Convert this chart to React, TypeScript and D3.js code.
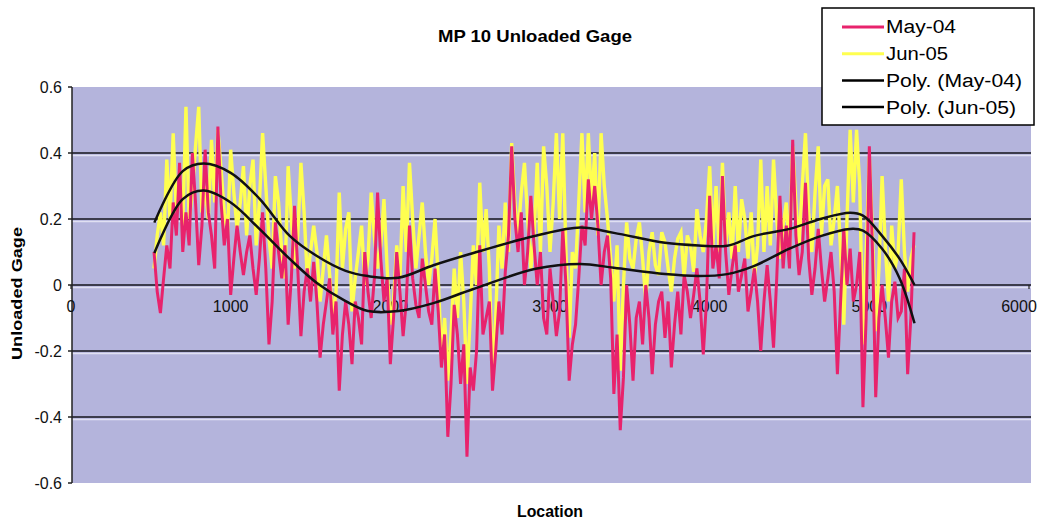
import React from 'react';
import * as d3 from 'd3';

const locations = [
  520, 540, 560, 580, 600, 620, 640, 660, 680, 700, 720, 740, 760, 780, 800, 820, 840, 860, 880, 900,
  920, 940, 960, 980, 1000, 1020, 1040, 1060, 1080, 1100, 1120, 1140, 1160, 1180, 1200, 1220, 1240, 1260, 1280, 1300,
  1320, 1340, 1360, 1380, 1400, 1420, 1440, 1460, 1480, 1500, 1520, 1540, 1560, 1580, 1600, 1620, 1640, 1660, 1680, 1700,
  1720, 1740, 1760, 1780, 1800, 1820, 1840, 1860, 1880, 1900, 1920, 1940, 1960, 1980, 2000, 2020, 2040, 2060, 2080, 2100,
  2120, 2140, 2160, 2180, 2200, 2220, 2240, 2260, 2280, 2300, 2320, 2340, 2360, 2380, 2400, 2420, 2440, 2460, 2480, 2500,
  2520, 2540, 2560, 2580, 2600, 2620, 2640, 2660, 2680, 2700, 2720, 2740, 2760, 2780, 2800, 2820, 2840, 2860, 2880, 2900,
  2920, 2940, 2960, 2980, 3000, 3020, 3040, 3060, 3080, 3100, 3120, 3140, 3160, 3180, 3200, 3220, 3240, 3260, 3280, 3300,
  3320, 3340, 3360, 3380, 3400, 3420, 3440, 3460, 3480, 3500, 3520, 3540, 3560, 3580, 3600, 3620, 3640, 3660, 3680, 3700,
  3720, 3740, 3760, 3780, 3800, 3820, 3840, 3860, 3880, 3900, 3920, 3940, 3960, 3980, 4000, 4020, 4040, 4060, 4080, 4100,
  4120, 4140, 4160, 4180, 4200, 4220, 4240, 4260, 4280, 4300, 4320, 4340, 4360, 4380, 4400, 4420, 4440, 4460, 4480, 4500,
  4520, 4540, 4560, 4580, 4600, 4620, 4640, 4660, 4680, 4700, 4720, 4740, 4760, 4780, 4800, 4820, 4840, 4860, 4880, 4900,
  4920, 4940, 4960, 4980, 5000, 5020, 5040, 5060, 5080, 5100, 5120, 5140, 5160, 5180, 5200, 5220, 5240, 5260, 5280,
];

const may04 = [
  0.10, -0.02, -0.085, 0.02, 0.12, 0.05, 0.25, 0.15, 0.37, 0.10, 0.22, 0.12, 0.40, 0.25, 0.06, 0.18, 0.41, 0.22, 0.15, 0.05,
  0.48, 0.25, 0.12, 0.20, -0.03, 0.08, 0.18, 0.10, 0.03, 0.10, 0.15, 0.05, -0.03, 0.08, 0.22, 0.05, -0.18, -0.05, 0.19, 0.10,
  0.02, 0.12, -0.12, 0.02, 0.24, 0.05, -0.155, -0.02, 0.05, -0.05, 0.07, -0.05, -0.22, -0.12, -0.05, 0.02, -0.15, -0.05, -0.32, -0.15,
  -0.05, -0.12, -0.24, -0.05, -0.10, -0.18, 0.10, -0.02, -0.10, 0.02, 0.28, 0.08, -0.05, 0.02, -0.24, -0.10, 0.10, -0.02, -0.155, -0.05,
  0.18, 0.02, -0.06, -0.10, 0.08, 0.00, -0.08, -0.12, 0.05, -0.08, -0.25, -0.15, -0.46, -0.30, -0.06, -0.15, -0.30, -0.18, -0.52, -0.25,
  -0.32, -0.20, 0.12, -0.15, -0.10, -0.05, -0.32, -0.20, -0.05, -0.15, 0.04, 0.15, 0.42, 0.20, 0.10, 0.22, 0.00, 0.10, 0.27, 0.12,
  0.00, 0.10, -0.10, -0.15, 0.05, -0.05, -0.155, -0.08, 0.17, 0.00, -0.29, -0.18, -0.12, 0.02, 0.18, 0.12, 0.32, 0.20, 0.30, 0.18,
  0.00, 0.10, 0.15, 0.02, -0.33, -0.15, -0.44, -0.28, 0.00, -0.12, -0.29, -0.10, -0.05, -0.18, 0.00, -0.10, -0.27, -0.12, -0.05, -0.02,
  -0.16, -0.05, -0.25, -0.12, -0.02, -0.15, 0.03, -0.02, -0.10, -0.03, 0.05, -0.05, -0.21, -0.05, 0.27, 0.05, 0.12, 0.02, 0.33, 0.10,
  -0.03, 0.05, 0.12, -0.02, 0.03, 0.08, -0.08, -0.02, 0.05, -0.05, -0.20, -0.05, 0.06, -0.05, -0.19, 0.02, 0.27, 0.05, 0.18, 0.05,
  0.44, 0.15, 0.03, 0.10, 0.31, 0.08, -0.03, 0.05, 0.17, 0.05, -0.05, 0.02, 0.10, -0.02, -0.27, -0.05, 0.17, 0.00, 0.11, -0.05,
  0.00, 0.10, -0.37, -0.10, 0.42, 0.10, -0.34, -0.10, 0.00, -0.10, -0.22, -0.05, 0.01, -0.10, -0.08, 0.05, -0.27, -0.10, 0.16,
];

const jun05 = [
  0.05, 0.15, 0.22, 0.12, 0.38, 0.20, 0.46, 0.22, 0.30, 0.18, 0.54, 0.20, 0.28, 0.42, 0.54, 0.22, 0.30, 0.20, 0.44, 0.25,
  0.47, 0.35, 0.22, 0.15, 0.41, 0.28, 0.17, 0.25, 0.36, 0.15, 0.30, 0.38, 0.12, 0.25, 0.46, 0.30, 0.14, 0.05, 0.33, 0.25,
  0.10, 0.02, 0.36, 0.20, 0.05, 0.15, 0.37, 0.22, 0.02, 0.10, 0.18, 0.10, -0.05, 0.05, 0.15, 0.03, -0.10, -0.02, 0.28, 0.05,
  0.17, 0.22, -0.08, 0.02, 0.10, 0.18, 0.00, 0.08, 0.28, 0.15, 0.05, 0.12, 0.26, 0.05, -0.12, -0.05, 0.12, 0.02, 0.30, 0.10,
  0.37, 0.20, 0.05, 0.15, 0.25, 0.10, 0.00, 0.08, 0.20, 0.02, -0.22, -0.10, -0.29, -0.15, 0.05, -0.10, 0.10, -0.05, -0.30, -0.10,
  0.12, 0.00, 0.31, 0.10, 0.23, 0.05, -0.28, -0.10, 0.18, 0.05, 0.25, 0.10, 0.43, 0.25, 0.15, 0.28, 0.37, 0.20, 0.05, 0.15,
  0.37, 0.10, 0.42, 0.30, 0.10, 0.25, 0.46, 0.20, 0.46, 0.10, -0.16, 0.10, 0.05, 0.25, 0.46, 0.22, 0.46, 0.25, 0.40, 0.15,
  0.46, 0.30, 0.20, 0.08, -0.05, 0.12, -0.26, 0.00, 0.19, 0.08, 0.05, 0.14, 0.19, 0.08, -0.05, 0.10, 0.16, 0.06, 0.03, 0.16,
  0.13, 0.05, -0.02, 0.08, 0.14, 0.16, 0.02, 0.15, 0.12, 0.04, 0.23, 0.15, 0.10, 0.20, 0.36, 0.12, 0.30, 0.10, 0.37, 0.12,
  0.22, 0.08, 0.30, 0.10, 0.26, 0.20, 0.08, 0.22, 0.02, 0.12, 0.38, 0.10, 0.30, 0.12, 0.38, 0.20, 0.08, 0.18, 0.25, 0.10,
  0.42, 0.25, 0.12, 0.30, 0.46, 0.22, 0.10, 0.28, 0.42, 0.15, 0.30, 0.32, 0.12, 0.20, 0.30, 0.10, -0.12, 0.20, 0.47, 0.25,
  0.47, 0.30, -0.18, 0.10, 0.39, 0.15, -0.14, 0.05, 0.33, 0.12, -0.05, 0.18, 0.05, 0.10, 0.32, 0.10, -0.02, 0.08, 0.12,
];

const trendLocations = [522, 700, 830, 1000, 1180, 1370, 1540, 1720, 1860, 2050, 2270, 2520, 2910, 3190, 3400, 3720, 3930, 4110, 4280, 4500, 4700, 4880, 4960, 5080, 5190, 5283];
const trendJun05 = [0.189, 0.345, 0.368, 0.34, 0.262, 0.149, 0.088, 0.043, 0.027, 0.022, 0.06, 0.097, 0.149, 0.174, 0.158, 0.128, 0.12, 0.119, 0.149, 0.17, 0.201, 0.219, 0.21, 0.149, 0.079, 0.0];
const trendMay04 = [0.097, 0.26, 0.286, 0.25, 0.17, 0.079, 0.006, -0.049, -0.079, -0.079, -0.055, -0.012, 0.049, 0.064, 0.052, 0.033, 0.027, 0.033, 0.058, 0.11, 0.149, 0.17, 0.165, 0.11, 0.02, -0.116];

const yTicks = [-0.6, -0.4, -0.2, 0, 0.2, 0.4, 0.6];
const gridTicks = [-0.4, -0.2, 0, 0.2, 0.4];
const xTicks = [0, 1000, 2000, 3000, 4000, 5000, 6000];

const legendItems = [
  { label: 'May-04', color: '#e8236c', width: 3, len: 70 },
  { label: 'Jun-05', color: '#ffff50', width: 3, len: 62 },
  { label: 'Poly. (May-04)', color: '#000000', width: 2.5, len: 136 },
  { label: 'Poly. (Jun-05)', color: '#000000', width: 2.5, len: 130 },
];

const W = 1043;
const H = 519;
const FONT = 'Arial, "Liberation Sans", sans-serif';

export default function App() {
  const x = d3.scaleLinear().domain([0, 6000]).range([71, 1029]);
  const y = d3.scaleLinear().domain([-0.6, 0.6]).range([483, 87]);

  const seriesLine = d3
    .line<number>()
    .x((_, i) => x(locations[i]))
    .y((d) => y(d));

  const trendLine = d3
    .line<number>()
    .x((_, i) => x(trendLocations[i]))
    .y((d) => y(d))
    .curve(d3.curveCatmullRom.alpha(0.5));

  const plotLeft = 72;
  const plotRight = 1031;
  const plotTop = y(0.6);
  const plotBottom = y(-0.6);

  return (
    <svg
      width={W}
      height={H}
      style={{ position: 'absolute', left: 0, top: 0, background: '#ffffff' }}
      fontFamily={FONT}
    >
      <rect x={0} y={0} width={W} height={H} fill="#ffffff" />
      <rect
        x={plotLeft}
        y={plotTop}
        width={plotRight - plotLeft}
        height={plotBottom - plotTop}
        fill="#b4b4dc"
      />
      {gridTicks.map((t) => (
        <g key={'g' + t}>
          <line x1={plotLeft} x2={plotRight} y1={y(t)} y2={y(t)} stroke="#3c3c4c" strokeWidth={2} />
          <line x1={plotLeft} x2={plotRight} y1={y(t) + 2.5} y2={y(t) + 2.5} stroke="#e0e0f2" strokeWidth={1.5} />
        </g>
      ))}
      <line x1={plotLeft} x2={plotLeft} y1={plotTop} y2={plotBottom} stroke="#222" strokeWidth={1.5} />
      {yTicks.map((t) => (
        <g key={'y' + t}>
          <line x1={plotLeft - 4} x2={plotLeft} y1={y(t)} y2={y(t)} stroke="#222" strokeWidth={1.5} />
          <text x={62} y={y(t)} dy="0.35em" textAnchor="end" fontSize={16} fill="#111">
            {String(t)}
          </text>
        </g>
      ))}
      {xTicks.map((t) => (
        <g key={'x' + t}>
          <line x1={x(t)} x2={x(t)} y1={y(0)} y2={y(0) + 4} stroke="#222" strokeWidth={1.2} />
          <text x={Math.min(x(t), 1019)} y={312} textAnchor="middle" fontSize={16} fill="#111">
            {String(t)}
          </text>
        </g>
      ))}
      <path d={seriesLine(jun05) || ''} fill="none" stroke="#ffff50" strokeWidth={3.4} strokeLinejoin="miter" />
      <path d={seriesLine(may04) || ''} fill="none" stroke="#e8236c" strokeWidth={3} strokeLinejoin="miter" />
      <path d={trendLine(trendMay04) || ''} fill="none" stroke="#111" strokeWidth={2.5} />
      <path d={trendLine(trendJun05) || ''} fill="none" stroke="#111" strokeWidth={2.5} />

      <text x={438} y={42} fontSize={17} fontWeight="bold" textLength={194} lengthAdjust="spacingAndGlyphs" fill="#000">
        MP 10 Unloaded Gage
      </text>
      <text x={517} y={517} fontSize={16} fontWeight="bold" textLength={66} lengthAdjust="spacingAndGlyphs" fill="#000">
        Location
      </text>
      <text
        transform="translate(22,360) rotate(-90)"
        x={0}
        y={0}
        fontSize={15}
        fontWeight="bold"
        textLength={133}
        lengthAdjust="spacingAndGlyphs"
        fill="#000"
      >
        Unloaded Gage
      </text>

      <rect x={822} y={8} width={212} height={117} fill="#ffffff" stroke="#000" strokeWidth={1.5} />
      {legendItems.map((it, i) => {
        const cy = 27 + i * 26.7;
        return (
          <g key={it.label}>
            <line x1={842} x2={884} y1={cy} y2={cy} stroke={it.color} strokeWidth={it.width} />
            <text
              x={886}
              y={cy}
              dy="0.36em"
              fontSize={18}
              textLength={it.len}
              lengthAdjust="spacingAndGlyphs"
              fill="#000"
            >
              {it.label}
            </text>
          </g>
        );
      })}
    </svg>
  );
}
